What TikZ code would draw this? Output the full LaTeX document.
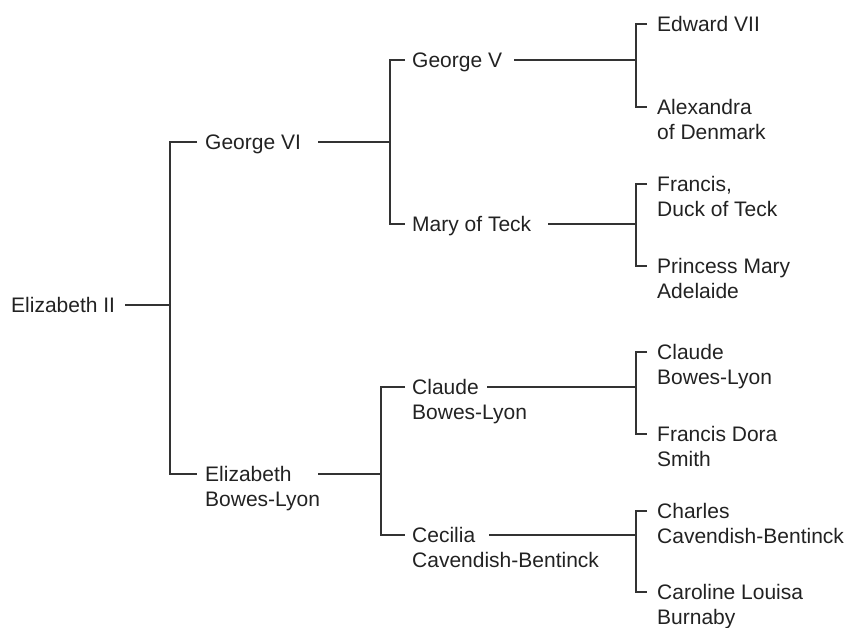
\documentclass[tikz,border=0pt]{standalone}
\usepackage{fontspec}
\setmainfont{Liberation Sans}
\definecolor{ln}{HTML}{333333}
\definecolor{tx}{HTML}{222222}
\begin{document}
\begin{tikzpicture}[x=1pt,y=-1pt,
  person/.style={anchor=base west,inner sep=0pt,align=left,text=tx,
    font=\fontsize{21}{25}\selectfont},
  link/.style={draw=ln,line width=1.3pt}]
\useasboundingbox (0,0) rectangle (848,627);
% people: single-line nodes placed at baseline = connector y + 7.5,
% two-line nodes at last baseline = connector y + 32.5
\node[person] (e2)   at (11,312.5)  {Elizabeth II};
\node[person] (g6)   at (205,149.5) {George VI};
\node[person] (ebl)  at (205,506.5) {Elizabeth\\Bowes-Lyon};
\node[person] (g5)   at (412,67.5)  {George V};
\node[person] (mt)   at (412,231.5) {Mary of Teck};
\node[person] (cbl)  at (412,419.5) {Claude\\Bowes-Lyon};
\node[person] (ccb)  at (412,567.5) {Cecilia\\Cavendish-Bentinck};
\node[person] (e7)   at (657,31.5)  {Edward VII};
\node[person] (ad)   at (657,139.5) {Alexandra\\of Denmark};
\node[person] (fdt)  at (657,216.5) {Francis,\\Duck of Teck};
\node[person] (pma)  at (657,298.5) {Princess Mary\\Adelaide};
\node[person] (cbr)  at (657,384.5) {Claude\\Bowes-Lyon};
\node[person] (fds)  at (657,466.5) {Francis Dora\\Smith};
\node[person] (chc)  at (657,543.5) {Charles\\Cavendish-Bentinck};
\node[person] (clb)  at (657,624.5) {Caroline Louisa\\Burnaby};
% junction columns
\coordinate (j1) at (170,305);
\coordinate (j2) at (390,142);
\coordinate (j3) at (381,474);
\coordinate (j4) at (636,60);
\coordinate (j5) at (636,224);
\coordinate (j6) at (636,387);
\coordinate (j7) at (636,535);
% generation 1
\draw[link] ([xshift=114pt,yshift=7.5pt]e2.base west) coordinate (s0) -- (s0 -| j1);
\draw[link] ([xshift=-8pt,yshift=7.5pt]g6.base west) -| (j1)
  |- ([xshift=-8pt,yshift=32.5pt]ebl.base west);
% generation 2
\draw[link] ([xshift=113pt,yshift=7.5pt]g6.base west) coordinate (s1) -- (s1 -| j2);
\draw[link] ([xshift=113pt,yshift=32.5pt]ebl.base west) coordinate (s2) -- (s2 -| j3);
\draw[link] ([xshift=-7pt,yshift=7.5pt]g5.base west) -| (j2)
  |- ([xshift=-7pt,yshift=7.5pt]mt.base west);
\draw[link] ([xshift=-7pt,yshift=32.5pt]cbl.base west) -| (j3)
  |- ([xshift=-7pt,yshift=32.5pt]ccb.base west);
% generation 3
\draw[link] ([xshift=102pt,yshift=7.5pt]g5.base west) coordinate (s3) -- (s3 -| j4);
\draw[link] ([xshift=136pt,yshift=7.5pt]mt.base west) coordinate (s4) -- (s4 -| j5);
\draw[link] ([xshift=75pt,yshift=32.5pt]cbl.base west) coordinate (s5) -- (s5 -| j6);
\draw[link] ([xshift=77pt,yshift=32.5pt]ccb.base west) coordinate (s6) -- (s6 -| j7);
\draw[link] ([xshift=-10pt,yshift=7.5pt]e7.base west) -| (j4)
  |- ([xshift=-10pt,yshift=32.5pt]ad.base west);
\draw[link] ([xshift=-10pt,yshift=32.5pt]fdt.base west) -| (j5)
  |- ([xshift=-10pt,yshift=32.5pt]pma.base west);
\draw[link] ([xshift=-10pt,yshift=32.5pt]cbr.base west) -| (j6)
  |- ([xshift=-10pt,yshift=32.5pt]fds.base west);
\draw[link] ([xshift=-10pt,yshift=32.5pt]chc.base west) -| (j7)
  |- ([xshift=-10pt,yshift=32.5pt]clb.base west);
\end{tikzpicture}
\end{document}
